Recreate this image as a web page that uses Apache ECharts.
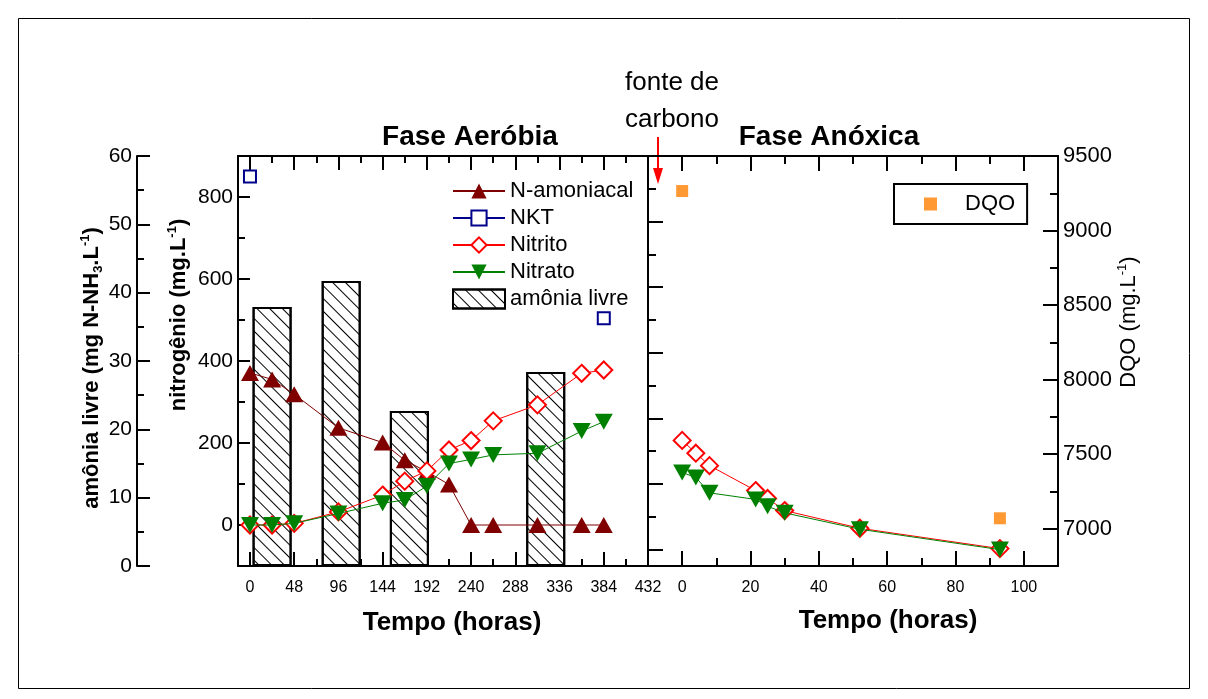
<!DOCTYPE html>
<html><head><meta charset="utf-8">
<script src="https://cdn.jsdelivr.net/npm/echarts@6/dist/echarts.min.js"></script>
<style>html,body{margin:0;padding:0;background:#fff}#c{width:1208px;height:699px}</style>
</head><body><div id="c"></div>
<script>
// ---- data: Fase Aeróbia ----
const tempoAerobia = [0, 24, 48, 96, 144, 168, 192, 216, 240, 264, 312, 360, 384];
const nAmoniacal  = [371, 355, 319, 237, 201, 158, 130, 99, 0, 0, 0, 0, 0];
const nitritoAer  = [0, 0, 4, 32, 73, 107, 132, 183, 206, 254, 293, 370, 378];
const nitratoAer  = [0, 0, 4, 28, 53, 61, 95, 150, 160, 171, 175, 229, 252];
const nktTempo    = [0, 192, 384];
const nktValores  = [850, '-', 504];
const amoniaLivreTempo = [24, 99, 173, 321];
const amoniaLivre      = [37.9, 41.7, 22.7, 28.4];
// ---- data: Fase Anóxica ----
const tempoAnox   = [0, 4, 8, 21.5, 25, 30, 52, 93];
const nitritoAnox = [33.3, 29.4, 25.6, 18.0, 15.6, 11.9, 6.5, 0.3];
const nitratoAnox = [23.5, 22.0, 17.3, 15.3, 13.2, 11.2, 6.2, 0.0];
const dqoTempo    = [0, 93];
const dqoValores  = [9265, 7070];
// ---- tick labels ----
const tempoAerMaj = [0, 48, 96, 144, 192, 240, 288, 336, 384, 432];
const tempoAerMin = [24, 72, 120, 168, 216, 264, 312, 360, 408];
const tempoAnxMaj = [0, 20, 40, 60, 80, 100];
const tempoAnxMin = [10, 30, 50, 70, 90];
const nitroMaj = [0, 200, 400, 600, 800];
const nitroMin = [100, 300, 500, 700];
const nAnxMaj = [0, 20, 40, 60, 80, 100];
const nAnxMin = [10, 30, 50, 70, 90, 110];
const dqoMaj = [7000, 7500, 8000, 8500, 9000, 9500];
const dqoMin = [7250, 7750, 8250, 8750, 9250];

const zip = (a, b) => a.map((v, i) => [v, b[i]]);
const F = '"Liberation Sans", Arial, sans-serif';
const BLK = {color: '#000', width: 2};
const plain = (v) => String(v);

function tickAxis(base, vals, len, line, labels) {
  return Object.assign({
    type: 'value',
    axisLine: {show: line, onZero: false, lineStyle: BLK},
    axisTick: {show: true, inside: true, length: len, customValues: vals, lineStyle: BLK},
    axisLabel: labels ? Object.assign({customValues: vals, color: '#000', formatter: plain}, labels) : {show: false},
    splitLine: {show: false}
  }, base);
}
const xLab = {fontSize: 16, fontFamily: F, margin: 14};
const yLab = {fontSize: 21, fontFamily: F, margin: 5};

const nameTempo = (pad) => ({fontSize: 26, fontWeight: 'bold', fontFamily: F, color: '#000', padding: pad});

const xAxis = [
  tickAxis({gridIndex: 0, min: -13, max: 432, position: 'bottom', name: 'Tempo (horas)', nameLocation: 'middle', nameGap: 44, nameTextStyle: nameTempo([0, 0, 0, 18])}, tempoAerMaj, 14, true, xLab),
  tickAxis({gridIndex: 0, min: -13, max: 432, position: 'bottom'}, tempoAerMin, 7, false, null),
  tickAxis({gridIndex: 0, min: -13, max: 432, position: 'top'}, tempoAerMaj, 14, true, null),
  tickAxis({gridIndex: 0, min: -13, max: 432, position: 'top'}, tempoAerMin, 7, false, null),
  tickAxis({gridIndex: 1, min: -10, max: 110, position: 'bottom', name: 'Tempo (horas)', nameLocation: 'middle', nameGap: 42, nameTextStyle: nameTempo([0, 0, 0, 70])}, tempoAnxMaj, 15, true, xLab),
  tickAxis({gridIndex: 1, min: -10, max: 110, position: 'bottom'}, tempoAnxMin, 8, false, null),
  tickAxis({gridIndex: 1, min: -10, max: 110, position: 'top'}, tempoAnxMaj, 15, true, null),
  tickAxis({gridIndex: 1, min: -10, max: 110, position: 'top'}, tempoAnxMin, 8, false, null)
];

const boldRich = (fs) => ({
  t: {fontSize: fs, fontWeight: 'bold', fontFamily: F, color: '#000', lineHeight: fs + 4},
  sub: {fontSize: 13, fontWeight: 'bold', fontFamily: F, color: '#000', verticalAlign: 'bottom', lineHeight: 13},
  sup: {fontSize: 13, fontWeight: 'bold', fontFamily: F, color: '#000', verticalAlign: 'top', lineHeight: 13}
});
const normRich = (fs) => ({
  t: {fontSize: fs, fontFamily: F, color: '#000', lineHeight: fs + 4},
  sup: {fontSize: 13, fontFamily: F, color: '#000', verticalAlign: 'top', lineHeight: 13}
});

const yAxis = [
  tickAxis({gridIndex: 0, min: -100, max: 900, position: 'left',
    name: '{t|nitrogênio (mg.L}{sup|-1}{t|)}', nameLocation: 'middle', nameRotate: 90, nameGap: 46,
    nameTextStyle: {rich: boldRich(22), padding: [0, 0, 0, 92]}}, nitroMaj, 12, true, yLab),
  tickAxis({gridIndex: 0, min: -100, max: 900, position: 'left'}, nitroMin, 7, false, null),
  {type: 'value', gridIndex: 0, min: 0, max: 60, interval: 10, position: 'left', offset: 101,
    axisLine: {show: true, onZero: false, lineStyle: BLK},
    axisTick: {show: true, inside: true, length: 13, lineStyle: BLK},
    minorTick: {show: true, splitNumber: 2, length: 7, lineStyle: BLK},
    axisLabel: Object.assign({color: '#000', formatter: plain}, yLab),
    splitLine: {show: false}, minorSplitLine: {show: false},
    name: '{t|amônia livre (mg N-NH}{sub|3}{t|.L}{sup|-1}{t|)}', nameLocation: 'middle', nameRotate: 90, nameGap: 26,
    nameTextStyle: {rich: boldRich(22), padding: [0, 14, 0, 0]}},
  tickAxis({gridIndex: 1, min: -5, max: 120, position: 'left'}, nAnxMaj, 15, true, null),
  tickAxis({gridIndex: 1, min: -5, max: 120, position: 'left'}, nAnxMin, 8, false, null),
  tickAxis({gridIndex: 1, min: 6750, max: 9500, position: 'right',
    name: '{t|DQO (mg.L}{sup|-1}{t|)}', nameLocation: 'middle', nameRotate: 90, nameGap: 58,
    nameTextStyle: {rich: normRich(22), padding: [0, 0, 0, 78]}}, dqoMaj, 15, true, Object.assign({}, yLab, {fontSize: 22})),
  tickAxis({gridIndex: 1, min: 6750, max: 9500, position: 'right'}, dqoMin, 8, false, null)
];

const series = [
  {type: 'bar', name: 'amônia livre', xAxisIndex: 0, yAxisIndex: 2, barWidth: 39, z: 1,
    data: zip(amoniaLivreTempo, amoniaLivre),
    itemStyle: {color: '#fff', borderColor: '#000', borderWidth: 2,
      decal: {symbol: 'rect', symbolSize: 1, dashArrayX: [1, 0], dashArrayY: [1, 8], rotation: Math.PI / 4, color: '#000'}}},
  {type: 'line', name: 'N-amoniacal', xAxisIndex: 0, yAxisIndex: 0, z: 3, symbol: 'triangle', symbolSize: [18, 16],
    data: zip(tempoAerobia, nAmoniacal), itemStyle: {color: '#800000'}, lineStyle: {color: '#800000', width: 1}},
  {type: 'line', name: 'NKT', xAxisIndex: 0, yAxisIndex: 0, z: 3, symbol: 'emptyRect', symbolSize: 12, connectNulls: false,
    data: zip(nktTempo, nktValores), itemStyle: {color: '#00008b', borderWidth: 1.2}, lineStyle: {color: '#00008b', width: 1}},
  {type: 'line', name: 'Nitrito', xAxisIndex: 0, yAxisIndex: 0, z: 4, symbol: 'emptyDiamond', symbolSize: 17,
    data: zip(tempoAerobia, nitritoAer), itemStyle: {color: '#ff0000', borderWidth: 1.2}, lineStyle: {color: '#ff0000', width: 1}},
  {type: 'line', name: 'Nitrato', xAxisIndex: 0, yAxisIndex: 0, z: 5, symbol: 'triangle', symbolRotate: 180, symbolSize: [18, 16],
    data: zip(tempoAerobia, nitratoAer), itemStyle: {color: '#008000'}, lineStyle: {color: '#008000', width: 1}},
  {type: 'line', name: 'Nitrito', xAxisIndex: 4, yAxisIndex: 3, z: 4, symbol: 'emptyDiamond', symbolSize: 17,
    data: zip(tempoAnox, nitritoAnox), itemStyle: {color: '#ff0000', borderWidth: 1.2}, lineStyle: {color: '#ff0000', width: 1}},
  {type: 'line', name: 'Nitrato', xAxisIndex: 4, yAxisIndex: 3, z: 5, symbol: 'triangle', symbolRotate: 180, symbolSize: [18, 16],
    data: zip(tempoAnox, nitratoAnox), itemStyle: {color: '#008000'}, lineStyle: {color: '#008000', width: 1}},
  {type: 'scatter', name: 'DQO', xAxisIndex: 4, yAxisIndex: 5, z: 5, symbol: 'rect', symbolSize: 12,
    data: zip(dqoTempo, dqoValores), itemStyle: {color: '#ff8000'}}
];

const chart = echarts.init(document.getElementById('c'), null, {renderer: 'canvas'});
chart.setOption({
  animation: false,
  backgroundColor: '#fff',
  grid: [
    {left: 238, top: 156, width: 410, height: 410},
    {left: 648, top: 156, width: 410, height: 410}
  ],
  title: [
    {text: 'Fase Aeróbia', left: 470, top: 123, textAlign: 'center', padding: 0,
      textStyle: {fontSize: 28, fontWeight: 'bold', fontFamily: F, color: '#000'}},
    {text: 'Fase Anóxica', left: 829, top: 123, textAlign: 'center', padding: 0,
      textStyle: {fontSize: 28, fontWeight: 'bold', fontFamily: F, color: '#000'}}
  ],
  legend: [
    {left: 447, top: 175, orient: 'vertical', itemGap: 5, itemWidth: 52, itemHeight: 19, selectedMode: false,
      textStyle: {fontSize: 22, fontFamily: F, color: '#000'},
      data: ['N-amoniacal', 'NKT', 'Nitrito', 'Nitrato', {name: 'amônia livre', icon: 'rect'}]},
    {left: 894, top: 184, orient: 'vertical', selectedMode: false, borderColor: '#000', borderWidth: 2,
      padding: [9, 12, 9, 30], itemWidth: 13, itemHeight: 13,
      textStyle: {fontSize: 22, fontFamily: F, color: '#000', padding: [0, 0, 0, 23]},
      data: ['DQO']}
  ],
  xAxis, yAxis, series,
  graphic: [
    {type: 'rect', shape: {x: 18.5, y: 18.5, width: 1171, height: 670}, style: {fill: 'none', stroke: '#000', lineWidth: 1}, silent: true},
    {type: 'text', x: 672, y: 64, style: {text: 'fonte de\ncarbono', font: '26px ' + F, fill: '#000', align: 'center', lineHeight: 37}, silent: true},
    {type: 'line', shape: {x1: 658, y1: 137, x2: 658, y2: 170}, style: {stroke: '#ff0000', lineWidth: 2}, silent: true},
    {type: 'polygon', shape: {points: [[653, 168], [663, 168], [658, 184]]}, style: {fill: '#ff0000'}, silent: true}
  ]
});
</script></body></html>
